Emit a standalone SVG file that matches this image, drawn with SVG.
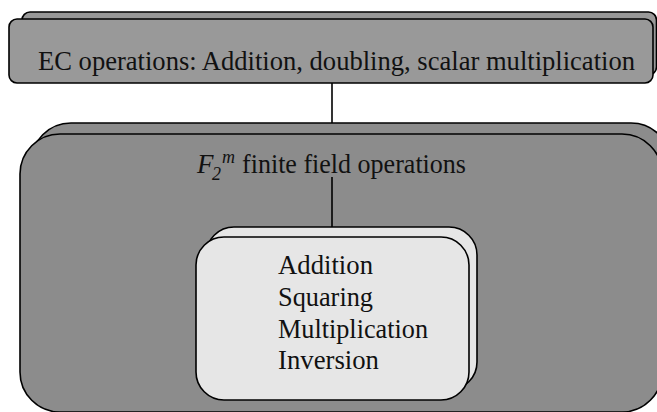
<svg xmlns="http://www.w3.org/2000/svg" width="657" height="412" viewBox="0 0 657 412">
<style>
.box{stroke:#000;stroke-width:1.6}
.top{fill:#999999}
.mid{fill:#8c8c8c}
.inner{fill:#e6e6e6}
.t{font-family:"Liberation Serif","Times New Roman",serif;font-size:27px;fill:#111}
.i{font-style:italic}
.s{font-size:18px}
.conn{stroke:#000;stroke-width:1.6;fill:none}
</style>
<rect width="657" height="412" fill="#ffffff"/>
<g id="ec-ops">
<rect class="box top" x="22" y="12" width="634.5" height="63" rx="8"/>
<rect class="box top" x="9" y="19" width="644" height="64" rx="8"/>
<text class="t" x="38" y="70" textLength="597" lengthAdjust="spacingAndGlyphs">EC operations: Addition, doubling, scalar multiplication</text>
</g>
<g id="field-ops">
<rect class="box mid" x="31" y="123" width="640" height="277" rx="40"/>
<rect class="box mid" x="20" y="134" width="642" height="278" rx="40"/>
<text class="t i" x="197" y="173">F</text>
<text class="t i s" x="212" y="180">2</text>
<text class="t i s" x="222" y="163">m</text>
<text class="t" x="242" y="173" textLength="224" lengthAdjust="spacingAndGlyphs">finite field operations</text>
</g>
<g id="primitives">
<rect class="box inner" x="206" y="227" width="271" height="163" rx="28"/>
<rect class="box inner" x="196" y="237" width="273" height="163" rx="28"/>
<text class="t" x="278" y="274" textLength="95" lengthAdjust="spacingAndGlyphs">Addition</text>
<text class="t" x="278" y="306" textLength="95" lengthAdjust="spacingAndGlyphs">Squaring</text>
<text class="t" x="278" y="338" textLength="150" lengthAdjust="spacingAndGlyphs">Multiplication</text>
<text class="t" x="278" y="369" textLength="101" lengthAdjust="spacingAndGlyphs">Inversion</text>
</g>
<g id="connectors">
<line class="conn" x1="332" y1="83" x2="332" y2="123"/>
<line class="conn" x1="332" y1="177" x2="332" y2="227"/>
</g>
</svg>
